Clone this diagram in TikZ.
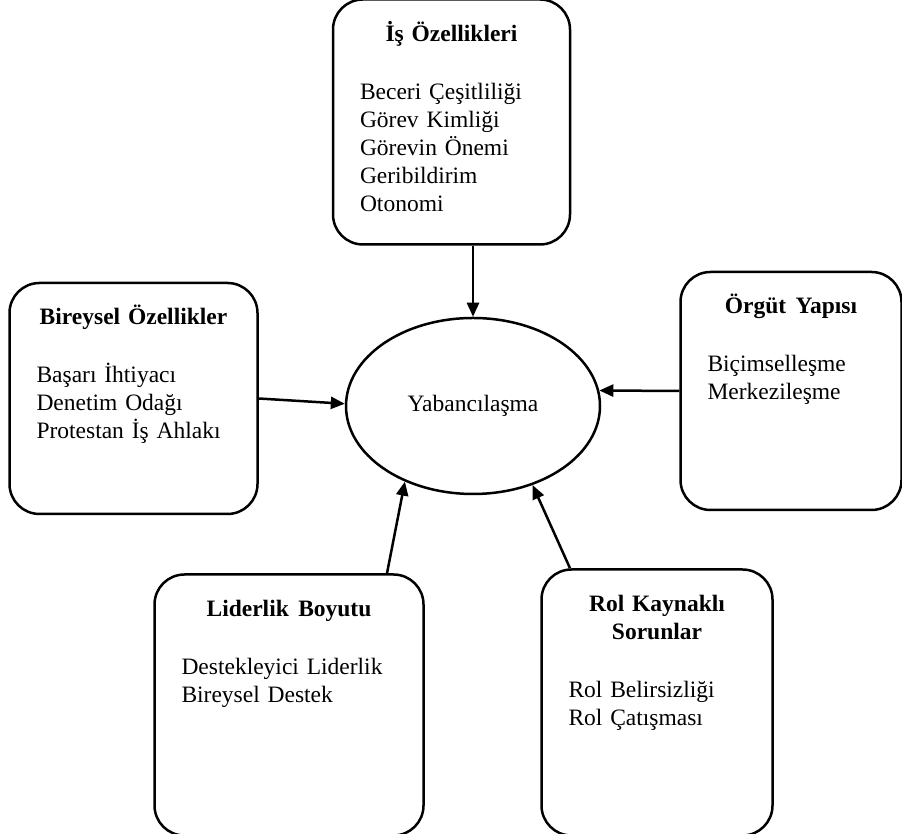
\documentclass[tikz,border=0pt]{standalone}
\usepackage{fontspec}
\setmainfont{Liberation Serif}
\usetikzlibrary{arrows.meta,positioning,shapes.geometric}

\begin{document}
\begin{tikzpicture}[
 box/.style={draw,rounded corners=30pt,line width=2.5pt,align=left,inner xsep=27pt,inner ysep=0pt,text height=42pt,font=\fontsize{23.5pt}{28pt}\selectfont},
 core/.style={draw,ellipse,line width=2.5pt,inner sep=0pt,minimum width=254pt,minimum height=176pt,font=\fontsize{23.5pt}{28pt}\selectfont},
 flow/.style={-{Triangle[length=14pt,width=12pt]},line width=2.5pt}]
\useasboundingbox (0,0) rectangle (902pt,834pt);
\node[core] (yab) at (473pt,428pt) {Yabancılaşma};
\node[box,text width=183pt,text depth=203pt,above=71pt of yab,xshift=-21.5pt] (is) {{\centering\textbf{İş Özellikleri}\par}\vspace{30pt}Beceri Çeşitliliği\\Görev Kimliği\\Görevin Önemi\\Geribildirim\\Otonomi};
\node[box,text width=194pt,text depth=189pt,left=86pt of yab,yshift=7.5pt] (bireysel) {{\centering\textbf{Bireysel Özellikler}\par}\vspace{30pt}Başarı İhtiyacı\\Denetim Odağı\\Protestan İş Ahlakı};
\node[box,text width=167pt,text depth=196pt,right=78pt of yab,yshift=15pt] (orgut) {{\centering\textbf{Örgüt\hspace{.4em}Yapısı}\par}\vspace{30pt}Biçimselleşme\\Merkezileşme};
\node[box,text width=215pt,text depth=219pt,below=78pt of yab,xshift=-184pt] (liderlik) {{\centering\textbf{Liderlik\hspace{.4em}Boyutu}\par}\vspace{30pt}Destekleyici Liderlik\\Bireysel Destek};
\node[box,text width=177pt,text depth=224pt,below=73pt of yab,xshift=184pt] (rol) {{\centering\textbf{Rol Kaynaklı\\Sorunlar}\par}\vspace{30pt}Rol Belirsizliği\\Rol Çatışması};
\draw[flow] ([xshift=21.5pt]is.south) -- (yab.north);
\draw[flow] (bireysel.east) -- (yab.179);
\draw[flow] (orgut.west) -- (yab.7);
\draw[flow] ([xshift=98pt]liderlik.north) -- (yab.228);
\draw[flow] ([xshift=-87pt]rol.north) -- (yab.307);
\end{tikzpicture}
\end{document}
